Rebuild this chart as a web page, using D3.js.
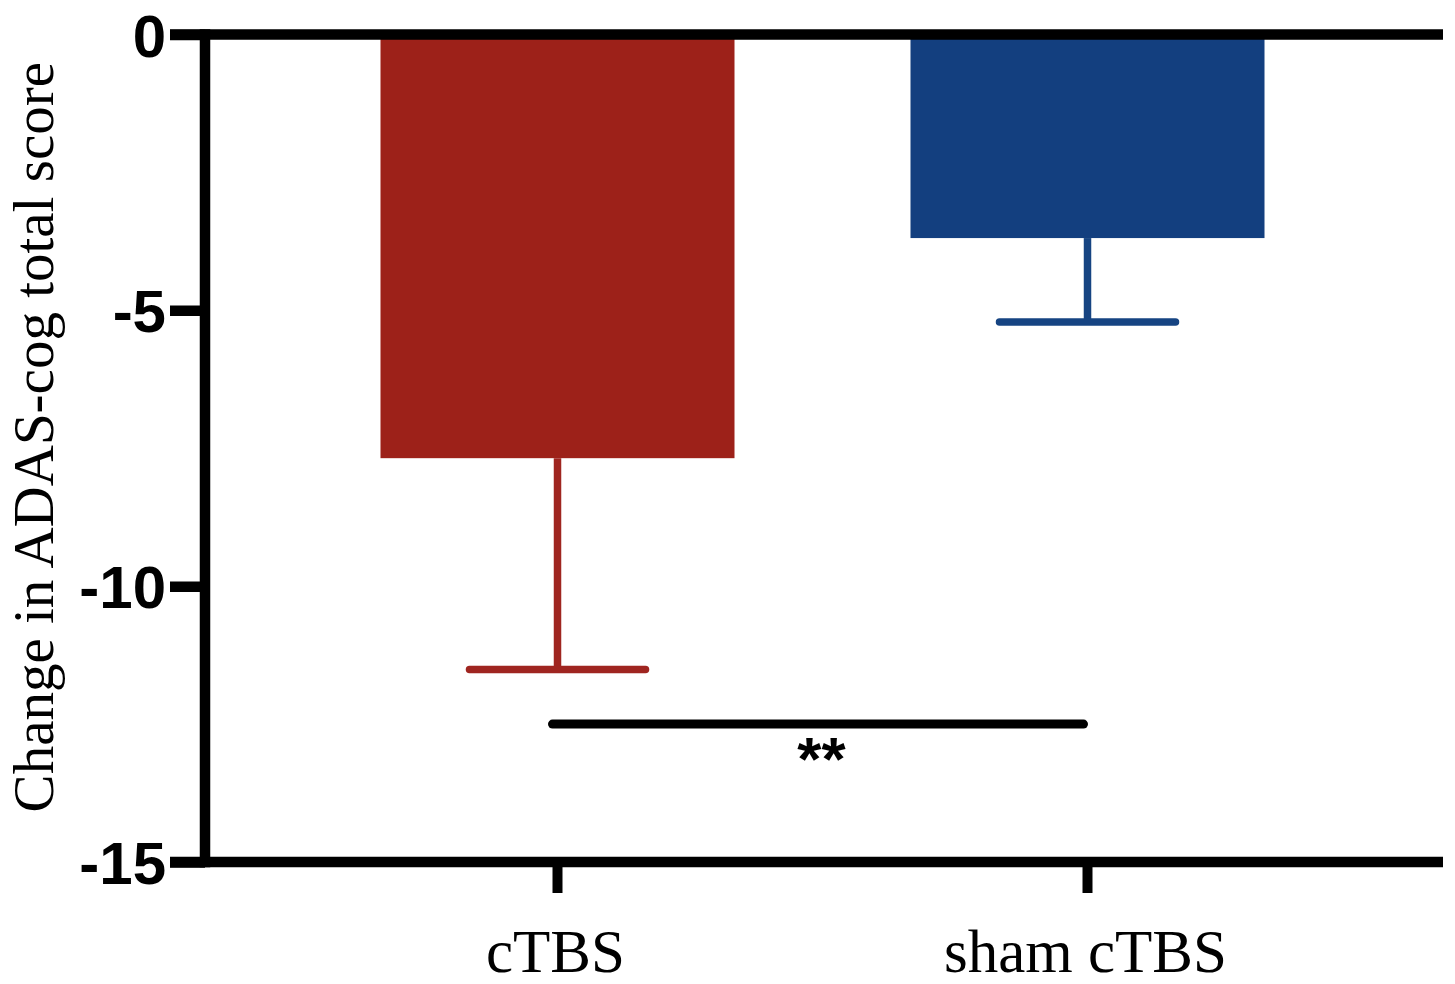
<!DOCTYPE html>
<html>
<head>
<meta charset="utf-8">
<script src="https://cdn.jsdelivr.net/npm/d3@7"></script>
<style>
  html, body { margin: 0; padding: 0; background: #fff; }
  svg { display: block; }
</style>
</head>
<body>
<svg id="chart" width="1455" height="984"></svg>
<script>
// ---- data ----
const categories = ["cTBS", "sham cTBS"];
const means = [-7.68, -3.69];
const sems = [3.83, 1.52];
const yTicks = [0, -5, -10, -15];
const yTitle = "Change in ADAS-cog total score";
const sigLevel = -12.5;
const sigLabel = "**";
const barColors = ["#9d2119", "#133f7f"];
const errColors = ["#9f2520", "#164482"];

// ---- layout ----
const svg = d3.select("#chart");
const axisX = 205;
const rightX = 1443;

const y = d3.scaleLinear().domain([-15, 0]).range([862, 34.5]);
const x = d3.scaleBand().domain(categories).range([292.5, 1352.5]).padding(0);
const barW = 354;
const cx = d => x(d) + x.bandwidth() / 2;

// bars
svg.selectAll("rect.bar").data(categories).enter().append("rect")
  .attr("x", d => cx(d) - barW / 2)
  .attr("y", y(0))
  .attr("width", barW)
  .attr("height", (d, i) => y(means[i]) - y(0))
  .attr("fill", (d, i) => barColors[i]);

// error bars
const capHalf = 88;
categories.forEach((c, i) => {
  const g = svg.append("g")
    .attr("stroke", errColors[i])
    .attr("stroke-width", 7.5)
    .attr("stroke-linecap", "round");
  g.append("line")
    .attr("x1", cx(c)).attr("x2", cx(c))
    .attr("y1", y(means[i])).attr("y2", y(means[i] - sems[i]))
    .attr("stroke-linecap", "butt");
  g.append("line")
    .attr("x1", cx(c) - capHalf).attr("x2", cx(c) + capHalf)
    .attr("y1", y(means[i] - sems[i])).attr("y2", y(means[i] - sems[i]));
});

// frame lines
const axisStroke = 10.5;
svg.append("line")
  .attr("x1", 170).attr("x2", rightX)
  .attr("y1", y(0)).attr("y2", y(0))
  .attr("stroke", "#000").attr("stroke-width", axisStroke);
svg.append("line")
  .attr("x1", 170).attr("x2", rightX)
  .attr("y1", y(-15)).attr("y2", y(-15))
  .attr("stroke", "#000").attr("stroke-width", axisStroke);

// y axis
const yAxis = d3.axisLeft(y).tickValues(yTicks).tickSize(35).tickPadding(4)
  .tickFormat(d => d3.format("d")(d).replace("−", "-"));
const gy = svg.append("g").attr("transform", `translate(${axisX},0)`).call(yAxis);
gy.select(".domain")
  .attr("d", `M0,${y(0) - axisStroke / 2}V${y(-15) + axisStroke / 2}`)
  .attr("stroke", "#000").attr("stroke-width", axisStroke);
gy.selectAll(".tick line").attr("stroke", "#000").attr("stroke-width", axisStroke);
gy.selectAll(".tick text")
  .attr("font-family", "'Liberation Sans', Arial, sans-serif")
  .attr("font-weight", "bold")
  .attr("font-size", 60)
  .attr("fill", "#000")
  .attr("dy", "0.36em");

// x axis
const xAxis = d3.axisBottom(x).tickSize(31).tickPadding(12);
const gx = svg.append("g").attr("transform", `translate(0,${y(-15)})`).call(xAxis);
gx.select(".domain").remove();
gx.selectAll(".tick line").attr("stroke", "#000").attr("stroke-width", 10);
gx.selectAll(".tick text").remove();
svg.selectAll("text.xlab").data(categories).enter().append("text")
  .attr("class", "xlab")
  .attr("x", d => cx(d) - 2)
  .attr("y", 972)
  .attr("text-anchor", "middle")
  .attr("font-family", "'Liberation Serif', 'Times New Roman', serif")
  .attr("font-size", 61)
  .attr("fill", "#000")
  .text(d => d);

// y title
svg.append("text")
  .attr("transform", `translate(53,${y(-7.3)}) rotate(-90)`)
  .attr("text-anchor", "middle")
  .attr("font-family", "'Liberation Serif', 'Times New Roman', serif")
  .attr("font-size", 57)
  .attr("fill", "#000")
  .text(yTitle);

// significance
svg.append("line")
  .attr("x1", cx(categories[0]) - 5).attr("x2", cx(categories[1]) - 4)
  .attr("y1", y(sigLevel)).attr("y2", y(sigLevel))
  .attr("stroke", "#000").attr("stroke-width", 9).attr("stroke-linecap", "round");
svg.append("text")
  .attr("x", (cx(categories[0]) + cx(categories[1])) / 2 - 1)
  .attr("y", 780)
  .attr("text-anchor", "middle")
  .attr("font-family", "'Liberation Sans', Arial, sans-serif")
  .attr("font-weight", "bold")
  .attr("font-size", 62)
  .attr("fill", "#000")
  .text(sigLabel);
</script>
</body>
</html>
